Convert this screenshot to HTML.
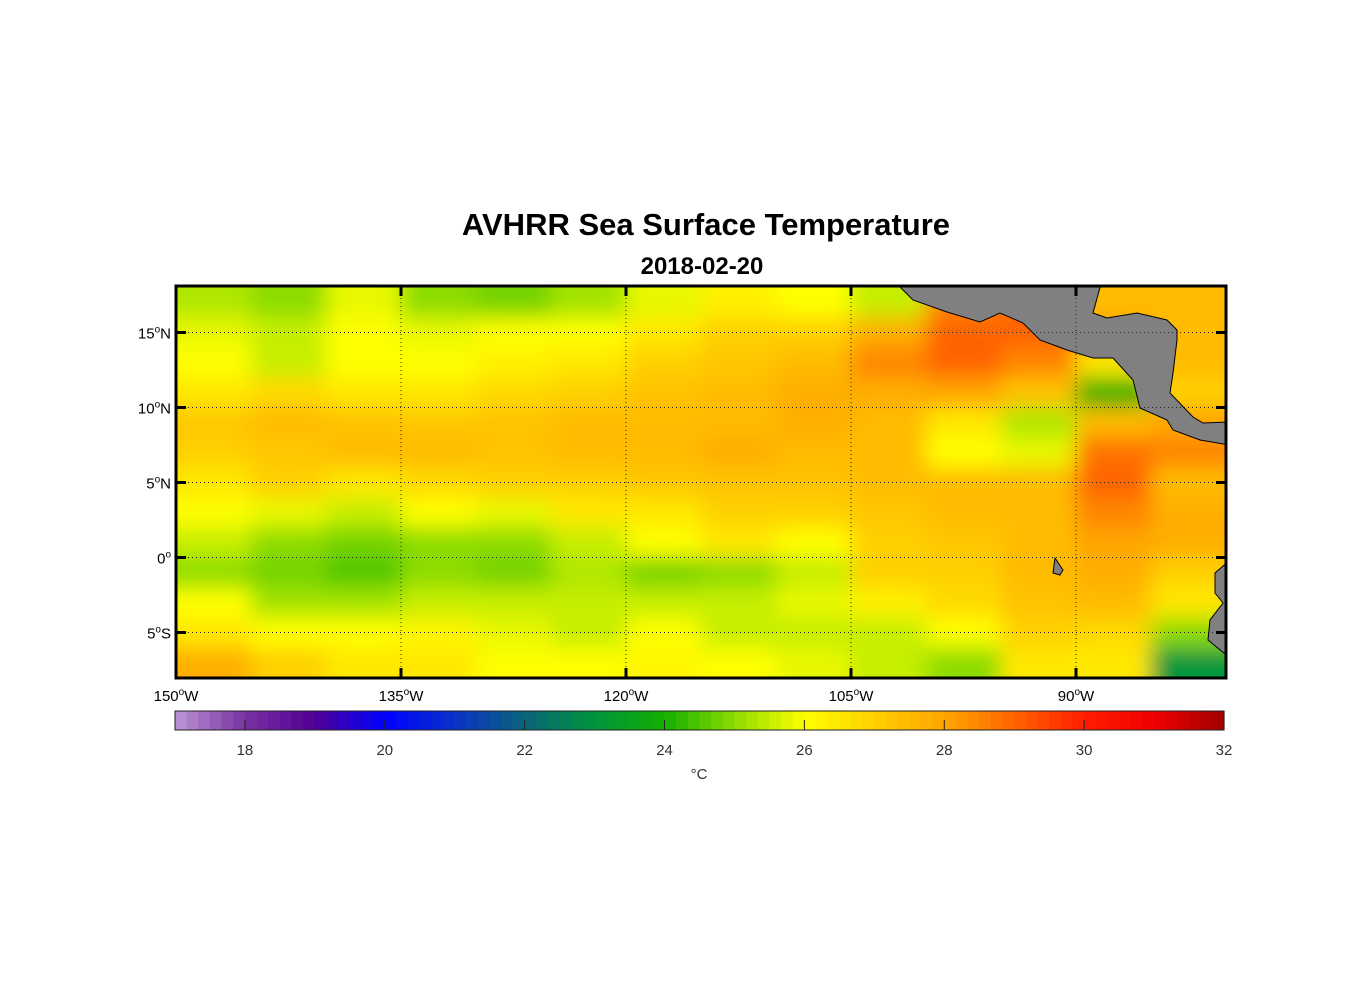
<!DOCTYPE html>
<html><head><meta charset="utf-8"><style>
body{margin:0;background:#fff;font-family:"Liberation Sans",sans-serif;}
svg text{font-family:"Liberation Sans",sans-serif;}
</style></head><body>
<svg id="s" width="1356" height="1000" xmlns="http://www.w3.org/2000/svg">
<defs>
<clipPath id="mapclip"><rect x="176" y="286" width="1050" height="392"/></clipPath>
<filter id="blur" x="-10%" y="-10%" width="120%" height="120%"><feGaussianBlur stdDeviation="11"/></filter>
</defs>
<text x="706" y="235" text-anchor="middle" font-size="31" font-weight="bold">AVHRR Sea Surface Temperature</text>
<text x="702" y="274" text-anchor="middle" font-size="24" font-weight="bold">2018-02-20</text>
<g clip-path="url(#mapclip)"><g id="field" filter="url(#blur)"></g><g id="land"></g></g>
<g id="grid"></g>
<rect x="176" y="286" width="1050" height="392" fill="none" stroke="#000" stroke-width="3"/>
<g id="axes"></g>
<g id="cbar"></g>
<rect x="175" y="711" width="1049" height="19" fill="none" stroke="#222" stroke-width="1"/>
<text x="699" y="779" text-anchor="middle" font-size="15" fill="#333">°C</text>
</svg>
<script>
const lats=[17,15,13,11,9,7,5,3,1,-1,-3,-5,-7];
const lons=[-147.5,-142.5,-137.5,-132.5,-127.5,-122.5,-117.5,-112.5,-107.5,-102.5,-97.5,-92.5,-87.5,-82.5];
const sst=[
[25.3,25,25.8,25,24.8,25.2,25.8,26.3,26,25.5,28.5,29,27.5,27.5],
[25.8,25.5,26,25.8,26,26,26.5,27,27,27.8,29,29,28,27.5],
[26,25.5,26,26,26.3,26.5,27,27.2,27.5,28.5,29,28.5,26.5,27.5],
[26.5,26.8,26.5,26.5,26.8,27,27.3,27.5,27.8,27.8,28,27.3,24,27],
[27.2,27.5,27.3,27.2,27.3,27.5,27.5,27.5,27.8,27.5,26.5,25.3,27.5,28],
[27,27.2,27.5,27.5,27.3,27.5,27.5,27.8,27.5,27.5,26,25.8,28.8,28.5],
[26.5,27,26.5,26.8,27,27,27.2,27.3,27.3,27.5,27.5,27.5,29,27.5],
[26,25.8,25.5,26,25.8,26.5,26.5,27,27,27.2,27.5,27.5,28.5,27.8],
[25.5,25,24.8,25,25,25.5,26,26.5,26,27,27.2,27.5,28,27.8],
[25,24.8,24.5,25,24.8,25.3,24.8,25,25.5,27,27,27.5,27.8,27],
[26,25.2,25.2,25.5,25.5,25.5,25.5,25.5,25.8,26.3,26.8,27.3,27.5,26.5],
[26.5,26,26,26.2,25.8,25.5,26,25.5,25.5,25.5,26,27,26.8,25],
[27.8,27,26.5,26.5,26,26,26.2,26,25.8,25.5,25,26.5,26.5,23]];
const lonTicks=[-150,-135,-120,-105,-90];
const latTicks=[15,10,5,0,-5];
const cbTicks=[18,20,22,24,26,28,30,32];
const NS='http://www.w3.org/2000/svg';
const X=lon=>176+(lon+150)*15;
const Y=lat=>286+(18.1-lat)*15;
const CB=v=>175+(v-17)*(1049/15);
const stops=[[17,[190,150,215]],[18,[120,50,160]],[19,[80,0,150]],[20,[0,0,255]],[21,[10,50,200]],[22,[10,100,120]],[23,[0,150,60]],[24,[20,175,0]],[25,[140,220,0]],[26,[255,255,0]],[27,[255,208,0]],[28,[255,165,0]],[29,[255,100,0]],[30,[255,30,0]],[31,[240,0,0]],[32,[160,0,0]]];
function col(v){v=Math.max(17,Math.min(32,v));for(let i=0;i<stops.length-1;i++){const a=stops[i],b=stops[i+1];if(v<=b[0]){const t=(v-a[0])/(b[0]-a[0]);const c=a[1].map((x,k)=>Math.round(x+(b[1][k]-x)*t));return `rgb(${c})`;}}return 'rgb(160,0,0)';}
function mk(t,a,p){const e=document.createElementNS(NS,t);for(const k in a)e.setAttribute(k,a[k]);p.appendChild(e);return e;}
const field=document.getElementById('field');
lats.forEach((la,i)=>lons.forEach((lo,j)=>{
 let x0=X(lo-2.5),x1=X(lo+2.5),y0=Y(la+1),y1=Y(la-1);
 if(j==0)x0-=50;if(j==lons.length-1)x1+=50;if(i==0)y0-=50;if(i==lats.length-1)y1+=50;
 const r=mk('rect',{x:x0,y:y0,width:x1-x0+1,height:y1-y0+1,fill:col(sst[i][j])},field);
 
 
}));
const land=document.getElementById('land');
[["central-america","900,287 913,300 947,312 980,322 1000,313 1023,323 1040,340 1067,350 1093,358 1113,358 1133,380 1140,408 1167,420 1173,430 1200,440 1230,445 1230,422 1203,423 1193,417 1170,393 1173,373 1177,340 1177,330 1167,320 1137,313 1107,318 1093,313 1102,280 895,280"],
 ["south-america","1230,560 1215,573 1215,593 1223,603 1210,620 1208,640 1230,658"],
 ["galapagos","1055,558 1063,570 1060,575 1053,573"]].forEach(d=>{
 const p=mk('polygon',{points:d[1],fill:'#808080',stroke:'#000','stroke-width':1},land);
 
 
});
const grid=document.getElementById('grid'),axes=document.getElementById('axes');
lonTicks.forEach(lo=>{
 if(lo>-150){const l=mk('line',{x1:X(lo),x2:X(lo),y1:286,y2:678,stroke:'#222','stroke-dasharray':'1 3'},grid);
 }
 mk('line',{x1:X(lo),x2:X(lo),y1:286,y2:296,stroke:'#000','stroke-width':3},axes);
 mk('line',{x1:X(lo),x2:X(lo),y1:668,y2:678,stroke:'#000','stroke-width':3},axes);
 const t=mk('text',{x:X(lo),y:701,'text-anchor':'middle','font-size':15},axes);
 t.innerHTML=Math.abs(lo)+'<tspan dy="-6" font-size="10">o</tspan><tspan dy="6">W</tspan>';
 
});
latTicks.forEach(la=>{
 const l=mk('line',{x1:176,x2:1226,y1:Y(la),y2:Y(la),stroke:'#222','stroke-dasharray':'1 3'},grid);
 
 mk('line',{x1:176,x2:186,y1:Y(la),y2:Y(la),stroke:'#000','stroke-width':3},axes);
 mk('line',{x1:1216,x2:1226,y1:Y(la),y2:Y(la),stroke:'#000','stroke-width':3},axes);
 const h=la>0?'N':la<0?'S':'';
 const t=mk('text',{x:171,y:Y(la)+6,'text-anchor':'end','font-size':15},axes);
 t.innerHTML=Math.abs(la)+'<tspan dy="-6" font-size="10">o</tspan><tspan dy="6">'+h+'</tspan>';
 
});
const cb=document.getElementById('cbar');
for(let v=17;v<32;v+=1/6){
 const r=mk('rect',{x:CB(v),y:711,width:CB(v+1/6)-CB(v)+0.6,height:19,fill:col(v+1/12)},cb);
 
}
cbTicks.forEach(v=>{
 mk('line',{x1:CB(v),x2:CB(v),y1:720,y2:730,stroke:'#222'},cb);
 const t=mk('text',{x:CB(v),y:755,'text-anchor':'middle','font-size':15,fill:'#333'},cb);
 t.textContent=v;
 
});
</script>
</body></html>
